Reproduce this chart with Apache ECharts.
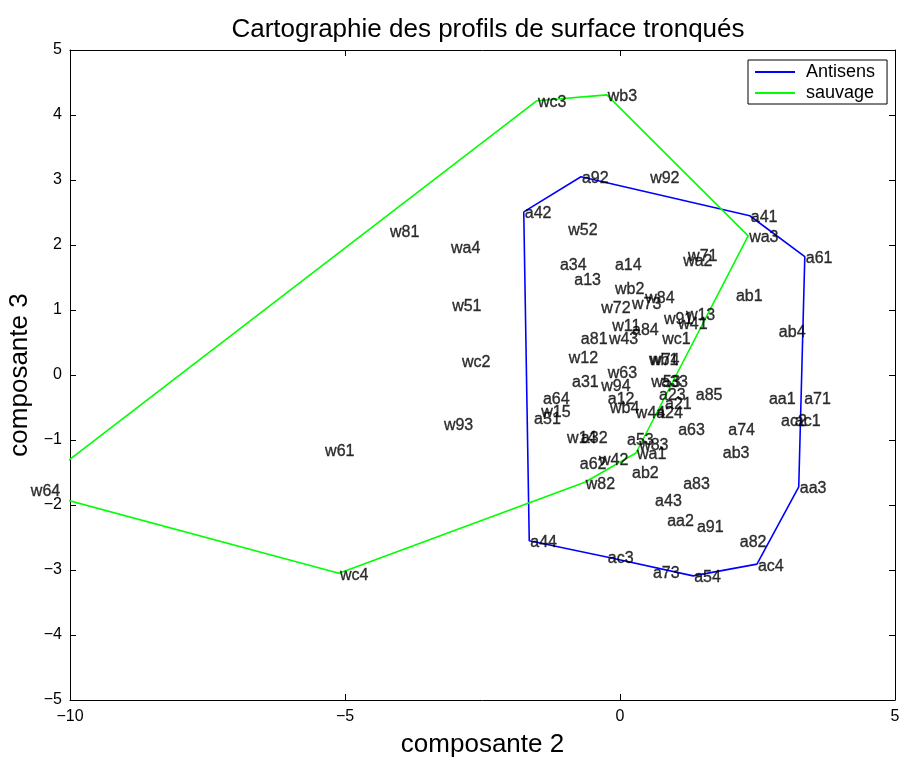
<!DOCTYPE html>
<html>
<head>
<meta charset="utf-8">
<script src="https://cdn.jsdelivr.net/npm/echarts@6/dist/echarts.min.js"></script>
<style>
html, body { margin: 0; padding: 0; background: #fff; }
#chart { width: 904px; height: 757px; }
</style>
</head>
<body>
<div id="chart"></div>
<script>
// Profils "Antisens": nom, composante 2, composante 3
const antisensNames = ['a92','a41','a61','a42','a34','a14','a13','ab1','ab4','a84','a81','a31','a64','a51','a12',
  'a33','a23','a21','a24','a85','a63','a74','aa1','a71','ac2','ac1','ab3','a32','a53','a62','ab2','aa3','a83',
  'a43','aa2','a91','a82','ac4','a44','ac3','a73','a54'];
const antisensX = [-0.71, 2.36, 3.36, -1.75, -1.11, -0.11, -0.85, 2.09, 2.87, 0.20, -0.73, -0.89, -1.42, -1.58, -0.24,
  0.73, 0.69, 0.80, 0.64, 1.36, 1.04, 1.95, 2.69, 3.33, 2.91, 3.16, 1.85, -0.73, 0.11, -0.75, 0.20, 3.25, 1.13,
  0.62, 0.84, 1.38, 2.16, 2.49, -1.65, -0.24, 0.58, 1.33];
const antisensY = [3.05, 2.45, 1.82, 2.51, 1.71, 1.71, 1.49, 1.23, 0.69, 0.72, 0.58, -0.08, -0.34, -0.66, -0.34,
  -0.09, -0.28, -0.43, -0.57, -0.29, -0.82, -0.82, -0.35, -0.34, -0.69, -0.69, -1.18, -0.95, -0.98, -1.35, -1.49, -1.72, -1.66,
  -1.91, -2.23, -2.31, -2.55, -2.91, -2.55, -2.80, -3.02, -3.09];

// Profils "sauvage"
const sauvageNames = ['wc3','wb3','w92','w52','w81','wa4','wa3','w71','wa2','wb2','w84','w72','w73','w13','w91',
  'w41','w11','w43','wc1','w51','wc2','w12','wb1','w74','w63','w94','w53','wb4','w44','w15','w93','w14','w83',
  'wa1','w42','w82','w61','w64','wc4'];
const sauvageX = [-1.51, -0.24, 0.53, -0.96, -4.20, -3.09, 2.33, 1.22, 1.13, -0.11, 0.44, -0.36, 0.20, 1.18, 0.78,
  1.04, -0.16, -0.22, 0.75, -3.07, -2.89, -0.95, 0.51, 0.53, -0.24, -0.36, 0.55, -0.20, 0.27, -1.45, -3.22, -0.98, 0.33,
  0.29, -0.40, -0.64, -5.38, -10.73, -5.11];
const sauvageY = [4.22, 4.31, 3.05, 2.26, 2.22, 1.98, 2.14, 1.85, 1.78, 1.34, 1.20, 1.05, 1.11, 0.95, 0.89,
  0.80, 0.77, 0.58, 0.58, 1.09, 0.22, 0.28, 0.26, 0.26, 0.05, -0.14, -0.09, -0.49, -0.57, -0.54, -0.75, -0.94, -1.05,
  -1.20, -1.28, -1.65, -1.15, -1.77, -3.05];

// Enveloppes convexes (ordre de parcours des sommets)
const antisensHull = ['a42','a92','a41','a61','aa3','ac4','a54','ac3','a44','a42'];
const sauvageHull = ['wc3','wb3','wa3','wa1','w82','wc4','w64','wc3'];

const xTicks = [-10, -5, 0, 5];
const yTicks = [-5, -4, -3, -2, -1, 0, 1, 2, 3, 4, 5];

const FONT = 'Liberation Sans, Arial, Helvetica, sans-serif';

function points(names, xs, ys) {
  return names.map((n, i) => ({ name: n, value: [xs[i], ys[i]] }));
}
function hull(order, names, xs, ys) {
  return order.map(n => { const i = names.indexOf(n); return [xs[i], ys[i]]; });
}
const fmt = v => (v < 0 ? '\u2212' + Math.abs(v) : String(v));

const axisCommon = {
  axisLine: { show: true, onZero: false, lineStyle: { color: '#000', width: 1 } },
  axisTick: { show: true, inside: true, length: 6, lineStyle: { color: '#000' } },
  splitLine: { show: false },
  axisLabel: { color: '#000', fontFamily: FONT, fontSize: 16 }
};

const chart = echarts.init(document.getElementById('chart'), null, { renderer: 'canvas' });

const labelStyle = {
  show: true,
  position: 'right',
  distance: 1,
  offset: [0, 2],
  formatter: p => p.name,
  color: '#000',
  textBorderColor: '#000',
  textBorderWidth: 0.35,
  fontFamily: FONT,
  fontSize: 16
};

chart.setOption({
  animation: false,
  backgroundColor: '#fff',
  title: {
    text: 'Cartographie des profils de surface tronqués',
    left: 483, top: 12, textAlign: 'center',
    textStyle: { fontFamily: FONT, fontSize: 26, fontWeight: 'normal', color: '#000' }
  },
  legend: {
    orient: 'vertical',
    left: 748, top: 60,
    padding: [3, 12, 2, 7],
    itemGap: 3,
    itemWidth: 40,
    itemHeight: 2,
    icon: 'rect',
    backgroundColor: '#fff',
    borderColor: '#000',
    borderWidth: 1,
    borderRadius: 0,
    data: ['Antisens', 'sauvage'],
    textStyle: { fontFamily: FONT, fontSize: 18, color: '#000', padding: [0, 0, 0, 6] }
  },
  grid: { left: 70, right: 9, top: 50, bottom: 57, containLabel: false, outerBoundsMode: 'none' },
  xAxis: [
    Object.assign({}, axisCommon, {
      type: 'value', min: xTicks[0], max: xTicks[xTicks.length - 1], interval: 5, position: 'bottom',
      name: 'composante 2', nameLocation: 'middle', nameGap: 32,
      nameTextStyle: { fontFamily: FONT, fontSize: 26, color: '#000' },
      axisLabel: Object.assign({}, axisCommon.axisLabel, { margin: 9, formatter: fmt })
    }),
    Object.assign({}, axisCommon, {
      type: 'value', min: xTicks[0], max: xTicks[xTicks.length - 1], interval: 5, position: 'top',
      axisLabel: { show: false }
    })
  ],
  yAxis: [
    Object.assign({}, axisCommon, {
      type: 'value', min: yTicks[0], max: yTicks[yTicks.length - 1], interval: 1, position: 'left',
      name: 'composante 3', nameLocation: 'middle', nameGap: 37, nameRotate: 90,
      nameTextStyle: { fontFamily: FONT, fontSize: 26, color: '#000' },
      axisLabel: Object.assign({}, axisCommon.axisLabel, { margin: 8, formatter: fmt })
    }),
    Object.assign({}, axisCommon, {
      type: 'value', min: yTicks[0], max: yTicks[yTicks.length - 1], interval: 1, position: 'right',
      axisLabel: { show: false }
    })
  ],
  series: [
    {
      name: 'Antisens', type: 'line', xAxisIndex: 0, yAxisIndex: 0,
      data: hull(antisensHull, antisensNames, antisensX, antisensY),
      showSymbol: false, symbol: 'none', clip: true,
      lineStyle: { color: '#0000ff', width: 1.6 }, itemStyle: { color: '#0000ff' }, z: 3
    },
    {
      name: 'sauvage', type: 'line', xAxisIndex: 0, yAxisIndex: 0,
      data: hull(sauvageHull, sauvageNames, sauvageX, sauvageY),
      showSymbol: false, symbol: 'none', clip: true,
      lineStyle: { color: '#00ff00', width: 1.6 }, itemStyle: { color: '#00ff00' }, z: 3
    },
    {
      name: 'labels-antisens', type: 'scatter', xAxisIndex: 0, yAxisIndex: 0,
      data: points(antisensNames, antisensX, antisensY),
      symbolSize: 0, clip: false, silent: true, label: labelStyle, z: 4
    },
    {
      name: 'labels-sauvage', type: 'scatter', xAxisIndex: 0, yAxisIndex: 0,
      data: points(sauvageNames, sauvageX, sauvageY),
      symbolSize: 0, clip: false, silent: true, label: labelStyle, z: 4
    }
  ]
});
</script>
</body>
</html>
